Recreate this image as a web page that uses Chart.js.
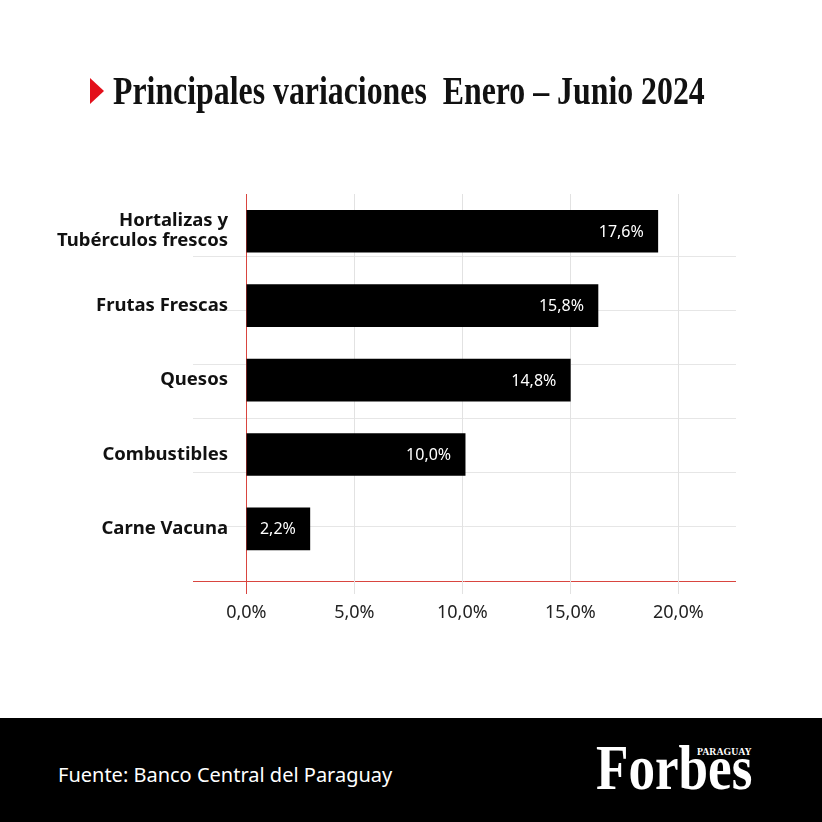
<!DOCTYPE html>
<html><head><meta charset="utf-8">
<script src="https://cdn.jsdelivr.net/npm/chart.js@4.4.1/dist/chart.umd.min.js"></script>
<style>
html,body{margin:0;padding:0;background:#fff;}
#wrap{position:relative;width:822px;height:822px;overflow:hidden;background:#fff;}
#chartBox{position:absolute;left:0;top:0;width:822px;height:718px;}
#tri{position:absolute;left:90px;top:78px;width:0;height:0;border-top:13.5px solid transparent;border-bottom:13.5px solid transparent;border-left:14px solid #e3101b;}
#title{position:absolute;left:113px;top:71px;font-family:"Liberation Serif",serif;font-weight:bold;font-size:40px;line-height:40px;white-space:nowrap;transform-origin:0 0;color:#111;}
#footer{position:absolute;left:0;top:718px;width:822px;height:104px;background:#000;}
#source{position:absolute;left:58px;top:44px;color:#fff;font-family:"Noto Sans",sans-serif;font-size:20px;line-height:26px;white-space:nowrap;}
#logo{position:absolute;left:596px;top:18px;color:#fff;font-family:"Liberation Serif",serif;font-weight:bold;font-size:64px;line-height:64px;white-space:nowrap;transform-origin:0 0;}
#pty{position:absolute;left:697px;top:29px;color:#fff;font-family:"Liberation Serif",serif;font-weight:bold;font-size:10px;line-height:10px;white-space:nowrap;transform-origin:0 0;}
</style>
</head>
<body>
<div id="wrap">
  <div id="chartBox"><canvas id="c"></canvas></div>
  <div id="tri"></div>
  <div id="title">Principales variaciones&nbsp; Enero – Junio 2024</div>
  <div id="footer">
    <div id="source">Fuente: Banco Central del Paraguay</div>
    <div id="logo">Forbes</div>
    <div id="pty">PARAGUAY</div>
  </div>
</div>
<script>
const categories = [['Hortalizas y', 'Tubérculos frescos'], 'Frutas Frescas', 'Quesos', 'Combustibles', 'Carne Vacuna'];
const barValues = [19.05, 16.28, 15.0, 10.13, 2.94];
const barLabels = ['17,6%', '15,8%', '14,8%', '10,0%', '2,2%'];
const xTicks = [0, 5, 10, 15, 20];
const xTickLabels = ['0,0%', '5,0%', '10,0%', '15,0%', '20,0%'];
const gridRows = [0, 1, 2, 3, 4, 5, 6];

function fitWidth(id, w){
  const el = document.getElementById(id);
  const nat = el.scrollWidth;
  el.style.transform = 'scaleX(' + (w / nat) + ')';
}
fitWidth('title', 592);
fitWidth('logo', 156);
fitWidth('pty', 55);

const RED = '#d9453f';
const CAT_SIZE = 18.5;
const CAT_FONT = {family: 'Noto Sans', size: CAT_SIZE, weight: 'bold', lineHeight: 1.08};
// measure widest category line so labels end at a fixed gap right of the axis
const mctx = document.createElement('canvas').getContext('2d');
mctx.font = 'bold ' + CAT_SIZE + 'px "Noto Sans"';
let widest = 0;
categories.flat().forEach(t => { widest = Math.max(widest, mctx.measureText(t).width); });
const labelGap = 35;

const labelPlugin = {
  id: 'barLabels',
  afterDatasetsDraw(chart){
    const meta = chart.getDatasetMeta(0);
    const c = chart.ctx;
    c.save();
    c.fillStyle = '#fff';
    c.font = '16px "Noto Sans"';
    c.textAlign = 'right';
    c.textBaseline = 'middle';
    meta.data.forEach((el, i) => { c.fillText(barLabels[i], el.x - 14, el.y + 1); });
    c.restore();
  }
};

new Chart(document.getElementById('c'), {
  type: 'bar',
  data: {
    datasets: [{
      data: barValues.map((v, i) => ({x: v, y: i})),
      backgroundColor: '#000',
      borderWidth: 0,
      barThickness: 42,
      xAxisID: 'x',
      yAxisID: 'y'
    }]
  },
  options: {
    indexAxis: 'y',
    responsive: true,
    maintainAspectRatio: false,
    animation: false,
    layout: {padding: {left: 58, right: 86, top: 194, bottom: 77}},
    plugins: {legend: {display: false}, tooltip: {enabled: false}},
    scales: {
      y2: {
        type: 'linear', position: 'right', min: 0, max: 7.16, offset: false,
        afterBuildTicks: s => { s.ticks = gridRows.map(v => ({value: v})); },
        afterFit: s => { s.width = 0; },
        ticks: {display: false},
        grid: {color: c => (c.tick && c.tick.value === 0) ? RED : '#e6e6e6', drawTicks: false, offset: false},
        border: {display: false}
      },
      y: {
        type: 'linear', position: 'left', reverse: true, min: -0.5, max: 4.7, offset: false,
        afterBuildTicks: s => { s.ticks = categories.map((c, i) => ({value: i})); },
        afterFit: s => { s.width = 135; },
        ticks: {callback: v => categories[v], mirror: true, crossAlign: 'far', padding: labelGap - widest, font: CAT_FONT, color: '#111', autoSkip: false},
        grid: {display: false, offset: false},
        border: {display: false}
      },
      x: {
        type: 'linear', position: 'bottom', min: -2.47, max: 22.67, offset: false,
        afterBuildTicks: s => { s.ticks = xTicks.map(v => ({value: v})); },
        afterFit: s => { s.height = 60; },
        ticks: {callback: (v, i) => xTickLabels[i], padding: 8, font: {family: 'Noto Sans', size: 18}, color: '#222', maxRotation: 0, autoSkip: false},
        grid: {color: c => (c.tick && c.tick.value === 0) ? RED : '#e2e2e2', lineWidth: 1, tickLength: 13, offset: false},
        border: {display: false}
      }
    }
  },
  plugins: [labelPlugin]
});
</script>
</body></html>
